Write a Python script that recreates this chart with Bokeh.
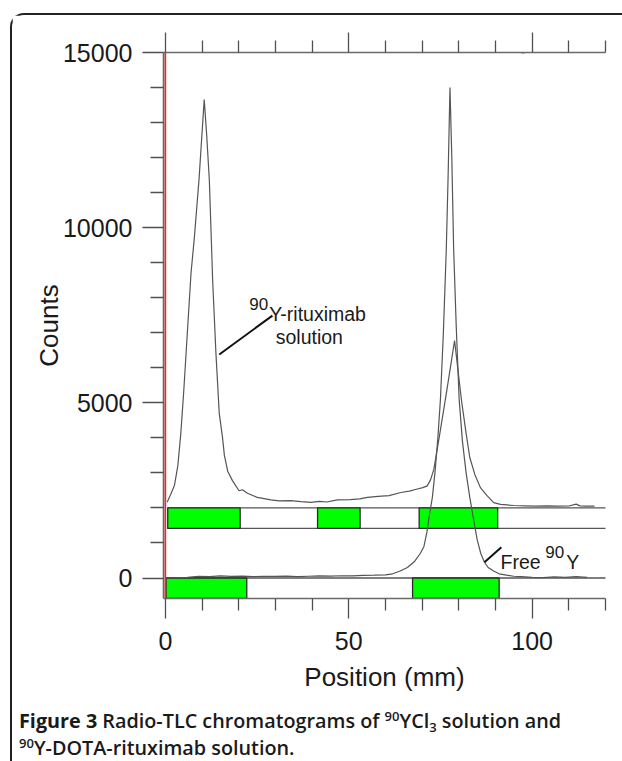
from bokeh.plotting import figure
from bokeh.layouts import column
from bokeh.models import Range1d, LinearAxis, FixedTicker, BasicTickFormatter, Label, Div
from bokeh.embed import file_html
from bokeh.resources import INLINE

# ---------------- data ----------------
x_major = [0, 50, 100]
x_minor = [10, 20, 30, 40, 60, 70, 80, 90, 110, 120]
y_major = [0, 5000, 10000, 15000]
y_minor = [1000, 2000, 3000, 4000, 6000, 7000, 8000, 9000, 11000, 12000, 13000, 14000]

# 90Y-rituximab solution chromatogram (drawn above its own TLC strip)
rit_x = [0.5, 1.5, 2.5, 3.4, 4.2, 5.0, 6.0, 7.0, 7.9, 9.2, 10.6, 11.3, 12.0, 12.9, 13.8,
         14.7, 15.6, 16.1, 17.0, 18.3, 20.1, 21.0, 22.4, 25.1, 28.8, 31, 34.2, 37, 39.7,
         42, 44, 46.9, 50.5, 53, 55.1, 58, 61, 64.2, 66.5, 68.7, 70.2, 71.4, 72.3, 73.2,
         74.8, 76.5, 77.7, 78.85, 79.8, 80.75, 81.9, 83.0, 84.4, 85.9, 87.7, 89.5, 91.4,
         95, 98, 101, 104, 107, 110, 112, 113, 114.5, 117]
rit_y = [2160, 2400, 2650, 3200, 4100, 5300, 7000, 8700, 9700, 11400, 13660, 12600, 11350,
         8500, 6400, 4700, 4000, 3500, 3050, 2780, 2490, 2520, 2420, 2300, 2230, 2200, 2210,
         2180, 2160, 2190, 2170, 2230, 2240, 2260, 2300, 2330, 2350, 2440, 2480, 2540, 2580,
         2630, 2800, 3100, 4100, 5200, 6000, 6780, 5920, 5060, 4200, 3440, 2950, 2580, 2350,
         2150, 2100, 2070, 2060, 2050, 2060, 2050, 2055, 2110, 2060, 2050, 2050]

# Free 90Y (90YCl3 solution) chromatogram
free_x = [0.3, 3, 6, 9, 12, 15, 18, 21, 24, 27, 30, 33, 36, 39, 42, 45, 48, 51, 54, 57, 60,
          62, 64, 66, 68, 69.5, 70.5, 71.3, 72, 72.8, 73.5, 74.3, 75, 75.8, 76.6, 77.1, 77.6,
          78.1, 78.6, 79.3, 80.1, 81, 82, 83, 84, 85, 86, 87, 88, 89.5, 91, 93, 95, 97, 100,
          103, 106, 109, 112, 115]
free_y = [0, 10, 20, 50, 40, 60, 45, 55, 40, 50, 45, 55, 40, 50, 60, 55, 65, 60, 75, 80, 90,
          120, 200, 300, 480, 700, 900, 1300, 1800, 2300, 3000, 4000, 5100, 7000, 9400, 11500,
          14000, 12000, 9400, 7200, 5100, 3900, 3000, 2300, 1700, 1100, 700, 450, 300, 200,
          120, 80, 50, 40, 20, 10, 30, 20, 40, 20]

# TLC strips and their green zones (mm)
strip_top = [2000, 0]
strip_bottom = [1415, -585]
upper_zone_left = [0.65, 41.5, 69.2]
upper_zone_right = [20.4, 53.1, 90.6]
lower_zone_left = [0.2, 67.4]
lower_zone_right = [22.2, 91.0]

AX = "#6a6a6a"
CURVE = "#555555"
TXT = "#1a1a1a"

p = figure(frame_width=442, frame_height=546,
           min_border_left=151, min_border_right=17, min_border_top=37, min_border_bottom=102,
           x_range=Range1d(-0.5, 120), y_range=Range1d(-585, 15000),
           x_axis_type=None, y_axis_type=None,
           output_backend="svg", toolbar_location=None)
p.outline_line_color = None
p.background_fill_color = "white"
p.border_fill_color = "white"


def style_axis(ax, major_out, minor_out):
    ax.axis_line_color = AX
    ax.axis_line_width = 1.6
    ax.major_tick_line_color = "#505050"
    ax.major_tick_line_width = 1.3
    ax.minor_tick_line_color = "#505050"
    ax.minor_tick_line_width = 1.3
    ax.major_tick_in = 0
    ax.minor_tick_in = 0
    ax.major_tick_out = major_out
    ax.minor_tick_out = minor_out
    ax.major_label_text_font = "Liberation Sans"
    ax.major_label_text_font_size = "25px"
    ax.major_label_text_color = TXT
    ax.axis_label_text_font = "Liberation Sans"
    ax.axis_label_text_font_size = "26px"
    ax.axis_label_text_font_style = "normal"
    ax.axis_label_text_color = TXT


xb = LinearAxis(ticker=FixedTicker(ticks=x_major, minor_ticks=x_minor),
                formatter=BasicTickFormatter(use_scientific=False),
                axis_label="Position (mm)")
style_axis(xb, 20, 12)
xb.major_label_standoff = 13
xb.axis_label_standoff = 9
p.add_layout(xb, "below")

xt = LinearAxis(ticker=FixedTicker(ticks=x_major, minor_ticks=x_minor),
                major_label_overrides={t: "" for t in x_major})
style_axis(xt, 20, 12)
p.add_layout(xt, "above")

yl = LinearAxis(ticker=FixedTicker(ticks=y_major, minor_ticks=y_minor),
                formatter=BasicTickFormatter(use_scientific=False),
                axis_label="Counts")
style_axis(yl, 21, 13)
yl.major_label_standoff = 10
yl.axis_label_standoff = -4
p.add_layout(yl, "left")

# strip outlines
p.segment(x0=[0.5, 0.5, 0.0], x1=[121, 121, 121],
          y0=[strip_top[0], strip_bottom[0], strip_top[1]],
          y1=[strip_top[0], strip_bottom[0], strip_top[1]],
          line_color="#555555", line_width=1.3)

# green zones
p.quad(left=upper_zone_left, right=upper_zone_right,
       bottom=[strip_bottom[0]] * 3, top=[strip_top[0]] * 3,
       fill_color="#00FF00", line_color="#2a2a2a", line_width=1.3)
p.quad(left=lower_zone_left, right=lower_zone_right,
       bottom=[strip_bottom[1]] * 2, top=[strip_top[1]] * 2,
       fill_color="#00FF00", line_color="#2a2a2a", line_width=1.3)

# origin line and a tiny blue mark on the top axis
p.segment(x0=[0], x1=[0], y0=[-585], y1=[15000], line_color="#ff2020", line_width=1.7)
p.segment(x0=[97.0], x1=[98.0], y0=[15000], y1=[15000], line_color="#3d8bff", line_width=2)

# curves
p.line(rit_x, rit_y, line_color=CURVE, line_width=1.2)
p.line(free_x, free_y, line_color=CURVE, line_width=1.2)

# pointer lines
p.segment(x0=[29.2, 91.6], y0=[7490, 876], x1=[14.7, 87.0], y1=[6380, 448],
          line_color="#111111", line_width=2)


def lab(x, y, text, size):
    p.add_layout(Label(x=x, y=y, text=text, text_font="Liberation Sans",
                       text_font_size=size, text_color=TXT,
                       text_align="left", text_baseline="alphabetic"))


lab(22.9, 7835, "90", "17px")
lab(28.3, 7550, "Y-rituximab", "19.5px")
lab(30.1, 6874, "solution", "19.5px")

lab(91.4, 456, "Free", "19.5px")
lab(103.6, 742, "90", "17px")
lab(109.3, 456, "Y", "19.5px")

# ---------------- caption ----------------
SUP = '<span style="font-size:13px;line-height:0;position:relative;top:-7px">'
SUB = '<span style="font-size:13px;line-height:0;position:relative;top:4px">'
caption_html = (
    '<div style="font-family:\'Open Sans\';font-size:19.8px;font-weight:600;'
    'line-height:26.7px;color:#1a1a1a;white-space:nowrap;margin:0;padding:3px 0 0 2px">'
    '<span style="font-weight:700">Figure 3</span> Radio-TLC chromatograms of '
    + SUP + '90</span>YCl' + SUB + '3</span>'
    ' solution and<br>' + SUP + '90</span>Y-DOTA-rituximab solution.</div>'
)
cap = Div(text=caption_html, width=610, height=58)

root = column(p, cap, spacing=0)
root.styles = {"margin-left": "10px", "margin-top": "13px",
               "border-left": "2px solid #222", "border-top": "2px solid #222",
               "border-top-left-radius": "14px"}

open("out.html", "w").write(file_html(root, INLINE))
